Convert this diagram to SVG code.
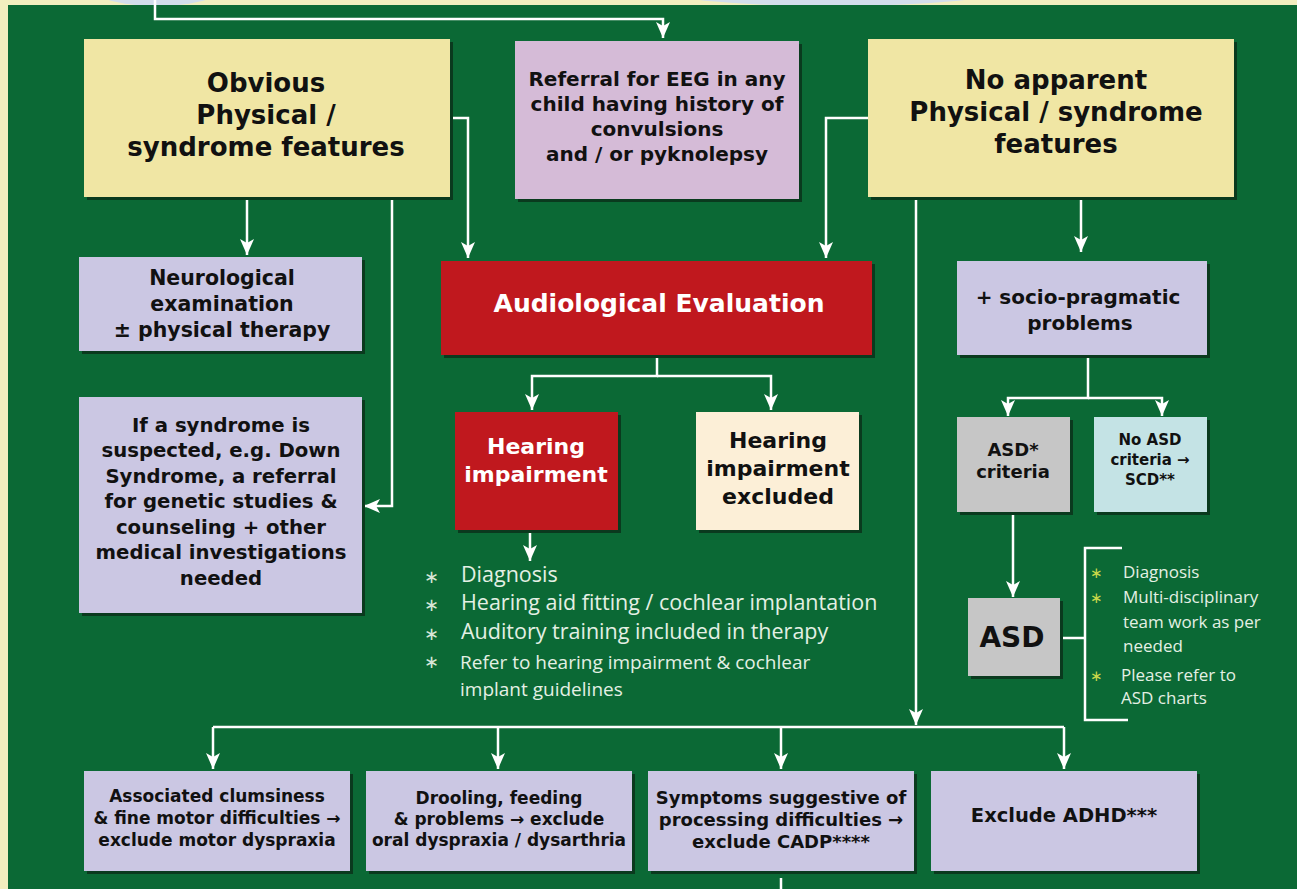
<svg xmlns="http://www.w3.org/2000/svg" width="1297" height="889" viewBox="0 0 1297 889">
<defs>
<marker id="ah" viewBox="0 -8 16 16" refX="16" refY="0" markerWidth="16" markerHeight="16" markerUnits="userSpaceOnUse" orient="auto">
<path d="M16,0 L0,-7 L4,0 L0,7 Z" fill="#ffffff"/>
</marker>
<style>
.sh{fill:#0a3a1e}
.yel{fill:#f0e6a4}
.pink{fill:#d5bbd7}
.lav{fill:#cbc7e3}
.red{fill:#c0181e}
.cream{fill:#fcefd7}
.gray{fill:#c6c6c6}
.cyan{fill:#c4e3e5}
.h{font-family:"DejaVu Sans","Liberation Sans",sans-serif;font-weight:700;text-anchor:middle;fill:#111}
.w{fill:#ffffff}
.c{fill:none;stroke:#ffffff;stroke-width:2.5}
.b{font-family:"Open Sans",Lato,sans-serif;fill:#e4f0e4}
.st{fill:#d8e6d8;font-family:"DejaVu Sans",sans-serif}
.st2{fill:#c9d84a;font-family:"DejaVu Sans",sans-serif}
</style>
</defs>
<rect x="0" y="0" width="1297" height="889" fill="#f2eebf"/>
<ellipse cx="157" cy="-10" rx="62" ry="16" fill="#d3deec"/>
<ellipse cx="832" cy="-10" rx="170" ry="16" fill="#d3deec"/>
<rect x="8" y="5" width="1289" height="884" fill="#0b6935"/>

<g id="connectors">
<path class="c" d="M155,0 V19 H663 V38" marker-end="url(#ah)"/>
<path class="c" d="M449,118 H468 V258" marker-end="url(#ah)"/>
<path class="c" d="M868,118 H826 V258" marker-end="url(#ah)"/>
<path class="c" d="M247,197 V255" marker-end="url(#ah)"/>
<path class="c" d="M392,197 V506 H364" marker-end="url(#ah)"/>
<path class="c" d="M657,355 V376 H532 V410" marker-end="url(#ah)"/>
<path class="c" d="M657,376 H771 V410" marker-end="url(#ah)"/>
<path class="c" d="M530,530 V561" marker-end="url(#ah)"/>
<path class="c" d="M1081,196 V252" marker-end="url(#ah)"/>
<path class="c" d="M1088,355 V398 H1008 V416" marker-end="url(#ah)"/>
<path class="c" d="M1088,398 H1162 V416" marker-end="url(#ah)"/>
<path class="c" d="M1013,512 V597" marker-end="url(#ah)"/>
<path class="c" d="M1060,638 H1085"/>
<path class="c" d="M1122,548 H1085 V720 H1128"/>
<path class="c" d="M916,163 V725" marker-end="url(#ah)"/>
<path class="c" d="M213,727 H1064"/>
<path class="c" d="M213,727 V769" marker-end="url(#ah)"/>
<path class="c" d="M498,727 V769" marker-end="url(#ah)"/>
<path class="c" d="M781,727 V769" marker-end="url(#ah)"/>
<path class="c" d="M1064,727 V769" marker-end="url(#ah)"/>
<path class="c" d="M781,878 V889"/>
</g>

<g id="obvious">
<rect class="sh" x="87" y="42" width="366" height="158"/>
<rect class="yel" x="84" y="39" width="366" height="158"/>
<text class="h" font-size="26" x="266"><tspan x="266" y="92">Obvious</tspan><tspan x="266" y="124">Physical /</tspan><tspan x="266" y="156">syndrome features</tspan></text>
</g>

<g id="eeg">
<rect class="sh" x="518" y="44" width="284" height="158"/>
<rect class="pink" x="515" y="41" width="284" height="158"/>
<text class="h" font-size="20" x="657"><tspan x="657" y="86">Referral for EEG in any</tspan><tspan x="657" y="111">child having history  of</tspan><tspan x="657" y="136">convulsions</tspan><tspan x="657" y="161">and / or pyknolepsy</tspan></text>
</g>

<g id="noapparent">
<rect class="sh" x="871" y="42" width="366" height="158"/>
<rect class="yel" x="868" y="39" width="366" height="158"/>
<text class="h" font-size="26" x="1056"><tspan x="1056" y="89">No apparent</tspan><tspan x="1056" y="121">Physical / syndrome</tspan><tspan x="1056" y="153">features</tspan></text>
</g>

<g id="neuro">
<rect class="sh" x="82" y="260" width="283" height="94"/>
<rect class="lav" x="79" y="257" width="283" height="94"/>
<text class="h" font-size="20.5" x="222"><tspan x="222" y="285">Neurological</tspan><tspan x="222" y="311">examination</tspan><tspan x="222" y="337">± physical therapy</tspan></text>
</g>

<g id="syndrome">
<rect class="sh" x="82" y="400" width="283" height="216"/>
<rect class="lav" x="79" y="397" width="283" height="216"/>
<text class="h" font-size="19.7" x="221"><tspan x="221" y="432">If a syndrome is</tspan><tspan x="221" y="457">suspected, e.g. Down</tspan><tspan x="221" y="483">Syndrome, a referral</tspan><tspan x="221" y="508">for genetic studies  &amp;</tspan><tspan x="221" y="534">counseling + other</tspan><tspan x="221" y="559">medical investigations</tspan><tspan x="221" y="585">needed</tspan></text>
</g>

<g id="audio">
<rect class="sh" x="444" y="264" width="431" height="94"/>
<rect class="red" x="441" y="261" width="431" height="94"/>
<text class="h w" font-size="25" x="659" y="312">Audiological Evaluation</text>
</g>

<g id="hi">
<rect class="sh" x="458" y="415" width="163" height="118"/>
<rect class="red" x="455" y="412" width="163" height="118"/>
<text class="h w" font-size="22" x="536"><tspan x="536" y="454">Hearing</tspan><tspan x="536" y="482">impairment</tspan></text>
</g>

<g id="hiex">
<rect class="sh" x="699" y="415" width="163" height="118"/>
<rect class="cream" x="696" y="412" width="163" height="118"/>
<text class="h" font-size="22" x="778"><tspan x="778" y="448">Hearing</tspan><tspan x="778" y="476">impairment</tspan><tspan x="778" y="504">excluded</tspan></text>
</g>

<g id="hilist">
<text class="st" font-size="18" x="424" y="583">∗</text>
<text class="st" font-size="18" x="424" y="611">∗</text>
<text class="st" font-size="18" x="424" y="640">∗</text>
<text class="st" font-size="18" x="424" y="668">∗</text>
<text class="b" font-size="21.5" x="461" y="582">Diagnosis</text>
<text class="b" font-size="21.5" x="461" y="610">Hearing aid fitting / cochlear implantation</text>
<text class="b" font-size="21.5" x="461" y="639">Auditory training included in therapy</text>
<text class="b" font-size="19" x="460" y="669">Refer to hearing impairment &amp; cochlear</text>
<text class="b" font-size="19" x="460" y="696">implant guidelines</text>
</g>

<g id="socio">
<rect class="sh" x="960" y="264" width="250" height="94"/>
<rect class="lav" x="957" y="261" width="250" height="94"/>
<text class="h" font-size="20" x="1078"><tspan x="1078" y="304">+ socio-pragmatic</tspan><tspan x="1080" y="330">problems</tspan></text>
</g>

<g id="asdcrit">
<rect class="sh" x="960" y="420" width="113" height="95"/>
<rect class="gray" x="957" y="417" width="113" height="95"/>
<text class="h" font-size="18" x="1013"><tspan x="1013" y="456">ASD*</tspan><tspan x="1013" y="478">criteria</tspan></text>
</g>

<g id="noasd">
<rect class="sh" x="1097" y="420" width="113" height="95"/>
<rect class="cyan" x="1094" y="417" width="113" height="95"/>
<text class="h" font-size="15" x="1150"><tspan x="1150" y="445">No ASD</tspan><tspan x="1150" y="465">criteria →</tspan><tspan x="1150" y="485">SCD**</tspan></text>
</g>

<g id="asd">
<rect class="sh" x="971" y="601" width="92" height="78"/>
<rect class="gray" x="968" y="598" width="92" height="78"/>
<text class="h" font-size="28" x="1012" y="647">ASD</text>
</g>

<g id="asdlist">
<text class="st2" font-size="15" x="1090" y="578">∗</text>
<text class="st2" font-size="15" x="1090" y="603">∗</text>
<text class="st2" font-size="15" x="1090" y="681">∗</text>
<text class="b" font-size="17" x="1123" y="578">Diagnosis</text>
<text class="b" font-size="17" x="1123" y="603">Multi-disciplinary</text>
<text class="b" font-size="17" x="1123" y="628">team work as per</text>
<text class="b" font-size="17" x="1123" y="652">needed</text>
<text class="b" font-size="17" x="1121" y="681">Please refer to</text>
<text class="b" font-size="17" x="1121" y="704">ASD charts</text>
</g>

<g id="clumsy">
<rect class="sh" x="87" y="774" width="266" height="100"/>
<rect class="lav" x="84" y="771" width="266" height="100"/>
<text class="h" font-size="17" x="217"><tspan x="217" y="802">Associated clumsiness</tspan><tspan x="217" y="824">&amp; fine motor difficulties →</tspan><tspan x="217" y="846">exclude motor dyspraxia</tspan></text>
</g>

<g id="drool">
<rect class="sh" x="369" y="774" width="266" height="100"/>
<rect class="lav" x="366" y="771" width="266" height="100"/>
<text class="h" font-size="17" x="499"><tspan x="499" y="804">Drooling, feeding</tspan><tspan x="499" y="825">&amp; problems → exclude</tspan><tspan x="499" y="846">oral dyspraxia / dysarthria</tspan></text>
</g>

<g id="cadp">
<rect class="sh" x="651" y="774" width="266" height="100"/>
<rect class="lav" x="648" y="771" width="266" height="100"/>
<text class="h" font-size="18" x="781"><tspan x="781" y="804">Symptoms suggestive of</tspan><tspan x="781" y="826">processing difficulties →</tspan><tspan x="781" y="848">exclude CADP****</tspan></text>
</g>

<g id="adhd">
<rect class="sh" x="934" y="774" width="266" height="100"/>
<rect class="lav" x="931" y="771" width="266" height="100"/>
<text class="h" font-size="19.5" x="1064" y="822">Exclude ADHD***</text>
</g>
</svg>
